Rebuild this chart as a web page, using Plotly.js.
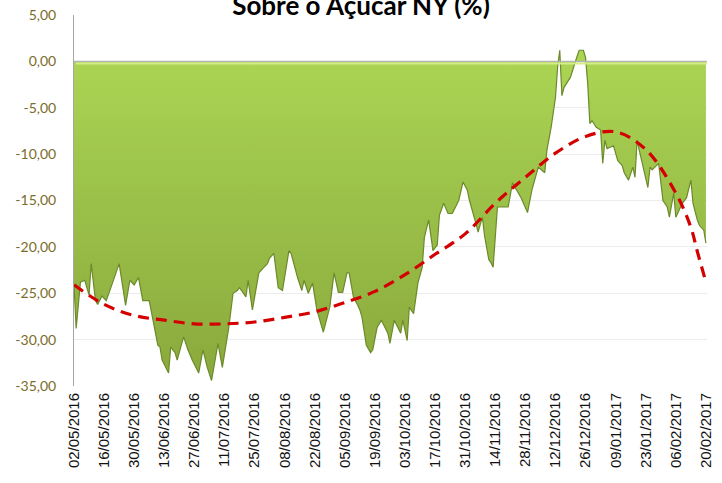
<!DOCTYPE html>
<html>
<head>
<meta charset="utf-8">
<script src="https://cdn.plot.ly/plotly-3.0.1.min.js"></script>
<style>
  html, body { margin: 0; padding: 0; background: #ffffff; }
  #chart { width: 722px; height: 483px; }
</style>
</head>
<body>
<div id="chart"></div>
<script>
const chartTitle = "Sobre o Açúcar NY (%)";

const dates = [
  "2016-05-02","2016-05-03","2016-05-05","2016-05-07","2016-05-09","2016-05-10","2016-05-12","2016-05-13","2016-05-15","2016-05-17",
  "2016-05-19","2016-05-21","2016-05-23","2016-05-26","2016-05-28","2016-05-30","2016-06-01","2016-06-03","2016-06-05","2016-06-06",
  "2016-06-08","2016-06-10","2016-06-11","2016-06-12","2016-06-15","2016-06-16","2016-06-18","2016-06-19","2016-06-22","2016-06-24",
  "2016-06-26","2016-06-29","2016-07-01","2016-07-02","2016-07-03","2016-07-05","2016-07-08","2016-07-09","2016-07-10","2016-07-13",
  "2016-07-15","2016-07-17","2016-07-18","2016-07-21","2016-07-22","2016-07-24","2016-07-27","2016-07-29","2016-07-31","2016-08-01",
  "2016-08-03","2016-08-05","2016-08-07","2016-08-10","2016-08-11","2016-08-14","2016-08-16","2016-08-17","2016-08-19","2016-08-21",
  "2016-08-23","2016-08-26","2016-08-28","2016-08-29","2016-08-31","2016-09-02","2016-09-04","2016-09-06","2016-09-07","2016-09-09",
  "2016-09-11","2016-09-12","2016-09-13","2016-09-15","2016-09-17","2016-09-18","2016-09-20","2016-09-22","2016-09-25","2016-09-26",
  "2016-09-28","2016-10-01","2016-10-02","2016-10-04","2016-10-05","2016-10-07","2016-10-09","2016-10-11","2016-10-12","2016-10-14",
  "2016-10-16","2016-10-18","2016-10-19","2016-10-21","2016-10-23","2016-10-25","2016-10-28","2016-10-30","2016-11-01","2016-11-02",
  "2016-11-05","2016-11-06","2016-11-08","2016-11-09","2016-11-11","2016-11-12","2016-11-13","2016-11-15","2016-11-17","2016-11-20",
  "2016-11-22","2016-11-24","2016-11-26","2016-11-29","2016-12-01","2016-12-04","2016-12-07","2016-12-08","2016-12-10","2016-12-12",
  "2016-12-13","2016-12-14","2016-12-15","2016-12-16","2016-12-19","2016-12-21","2016-12-22","2016-12-23","2016-12-25","2016-12-26",
  "2016-12-27","2016-12-28","2016-12-29","2016-12-31","2017-01-02","2017-01-03","2017-01-04","2017-01-05","2017-01-08","2017-01-10",
  "2017-01-12","2017-01-13","2017-01-15","2017-01-17","2017-01-18","2017-01-19","2017-01-20","2017-01-22","2017-01-24","2017-01-25",
  "2017-01-26","2017-01-29","2017-01-31","2017-02-02","2017-02-03","2017-02-05","2017-02-06","2017-02-09","2017-02-11","2017-02-13",
  "2017-02-14","2017-02-16","2017-02-17","2017-02-19","2017-02-20"
];

const values = [
  -24.1, -28.8, -23.8, -23.6, -25.2, -21.8, -25.8, -26.2, -25.3, -25.8,
  -24.5, -23.1, -21.8, -26.3, -23.6, -24.1, -23.3, -25.8, -25.8, -25.8,
  -28.2, -30.6, -30.8, -32.2, -33.6, -30.8, -31.4, -32.2, -29.7, -31.1,
  -32.2, -33.6, -31.1, -32.2, -33.0, -34.4, -30.4, -31.7, -33.0, -28.7,
  -25.0, -24.7, -24.4, -25.4, -23.6, -26.8, -22.8, -22.3, -21.8, -21.2,
  -20.7, -24.4, -24.7, -20.4, -20.7, -23.3, -24.7, -23.6, -25.0, -23.9,
  -26.8, -29.2, -27.4, -26.5, -22.8, -24.9, -24.9, -22.8, -22.8, -25.4,
  -26.3, -26.8, -27.6, -30.6, -31.4, -31.1, -28.7, -27.9, -29.3, -30.4,
  -27.9, -29.3, -27.9, -30.1, -26.5, -27.2, -23.9, -22.2, -19.0, -17.1,
  -20.4, -19.8, -16.6, -15.3, -16.4, -16.4, -15.0, -13.0, -13.9, -15.0,
  -17.5, -18.4, -16.8, -18.8, -21.4, -21.7, -22.2, -15.7, -15.7, -15.7,
  -13.1, -13.9, -14.7, -16.3, -13.9, -11.4, -12.0, -9.6, -7.1, -3.9,
  -0.6, 1.2, -3.7, -2.8, -1.7, -0.2, 0.4, 1.2, 1.2, 0.4,
  -2.4, -6.7, -6.4, -7.1, -7.4, -11.0, -8.5, -9.4, -9.1, -10.7,
  -11.2, -12.0, -12.8, -11.4, -12.5, -8.5, -9.6, -11.7, -13.6, -11.4,
  -11.7, -11.0, -15.0, -15.7, -16.8, -14.2, -16.8, -15.3, -14.7, -12.8,
  -15.3, -17.1, -17.7, -18.2, -19.6
];

const trendDates = [
  "2016-05-02","2016-05-16","2016-05-30","2016-06-13","2016-06-27","2016-07-11","2016-07-25","2016-08-08",
  "2016-08-22","2016-09-05","2016-09-19","2016-10-03","2016-10-17","2016-10-31","2016-11-14","2016-11-28",
  "2016-12-12","2016-12-26","2017-01-09","2017-01-23","2017-02-06","2017-02-13","2017-02-16","2017-02-20"
];
const trendValues = [
  -24.1, -26.2, -27.4, -27.9, -28.3, -28.3, -28.1, -27.6,
  -27.0, -26.0, -24.8, -23.0, -20.8, -18.6, -15.3, -12.5,
  -9.9, -8.1, -7.6, -9.5, -14.2, -17.9, -20.5, -23.8
];

const xTickVals = [
  "2016-05-02","2016-05-16","2016-05-30","2016-06-13","2016-06-27","2016-07-11","2016-07-25","2016-08-08",
  "2016-08-22","2016-09-05","2016-09-19","2016-10-03","2016-10-17","2016-10-31","2016-11-14","2016-11-28",
  "2016-12-12","2016-12-26","2017-01-09","2017-01-23","2017-02-06","2017-02-20"
];
const xTickText = [
  "02/05/2016","16/05/2016","30/05/2016","13/06/2016","27/06/2016","11/07/2016","25/07/2016","08/08/2016",
  "22/08/2016","05/09/2016","19/09/2016","03/10/2016","17/10/2016","31/10/2016","14/11/2016","28/11/2016",
  "12/12/2016","26/12/2016","09/01/2017","23/01/2017","06/02/2017","20/02/2017"
];
const yTickVals = [5, 0, -5, -10, -15, -20, -25, -30, -35];
const yTickText = ["5,00", "0,00", "-5,00", "-10,00", "-15,00", "-20,00", "-25,00", "-30,00", "-35,00"];

const areaTrace = {
  type: "scatter",
  mode: "lines",
  x: dates,
  y: values,
  fill: "tozeroy",
  fillgradient: {
    type: "vertical",
    start: -35,
    stop: 0,
    colorscale: [[0, "#8aa83c"], [0.6, "#9cc24a"], [1, "#abd453"]]
  },
  line: { color: "#6c8a2c", width: 1.2 },
  hoverinfo: "skip"
};

const trendTrace = {
  type: "scatter",
  mode: "lines",
  x: trendDates,
  y: trendValues,
  line: { color: "#d40000", width: 3.2, dash: "11px,7px", shape: "spline", smoothing: 1 },
  hoverinfo: "skip"
};

const layout = {
  width: 722,
  height: 483,
  margin: { l: 74, r: 15, t: 15, b: 97 },
  paper_bgcolor: "#ffffff",
  plot_bgcolor: "#ffffff",
  showlegend: false,
  title: {
    text: "<b>" + chartTitle + "</b>",
    font: { family: "Lato, 'Open Sans', sans-serif", size: 26, color: "#000000" },
    xref: "container",
    x: 0.5,
    xanchor: "center",
    yref: "paper",
    y: 1,
    yanchor: "bottom",
    pad: { b: 0, t: 0 }
  },
  xaxis: {
    type: "date",
    range: ["2016-05-02", "2017-02-20 12:00"],
    tickmode: "array",
    tickvals: xTickVals,
    ticktext: xTickText,
    tickangle: -90,
    tickfont: { family: "'Liberation Sans', Arial, sans-serif", size: 15, color: "#111111" },
    showgrid: false,
    zeroline: false,
    showline: false,
    ticks: "",
    ticklabelstandoff: 3,
    fixedrange: true
  },
  yaxis: {
    range: [-35, 5],
    tickmode: "array",
    tickvals: yTickVals,
    ticktext: yTickText,
    tickfont: { family: "Lato, 'Open Sans', sans-serif", size: 14, color: "#7a6c2a" },
    showgrid: true,
    gridcolor: "#ececec",
    gridwidth: 1,
    zeroline: false,
    showline: true,
    linecolor: "#a6a6a6",
    linewidth: 1,
    ticks: "",
    ticklabelstandoff: 14,
    fixedrange: true
  },
  shapes: [
    {
      type: "line", xref: "paper", x0: 0, x1: 1, yref: "y", y0: 0, y1: 0,
      line: { color: "#b4b4b4", width: 1.5 }, layer: "above"
    },
    {
      type: "line", xref: "paper", x0: 0.003, x1: 1, yref: "y",
      ysizemode: "pixel", yanchor: 0, y0: -2.2, y1: -2.2,
      line: { color: "#d5ee86", width: 2 }, layer: "above"
    }
  ]
};

Plotly.newPlot("chart", [areaTrace, trendTrace], layout, { displayModeBar: false, staticPlot: true });
</script>
</body>
</html>
